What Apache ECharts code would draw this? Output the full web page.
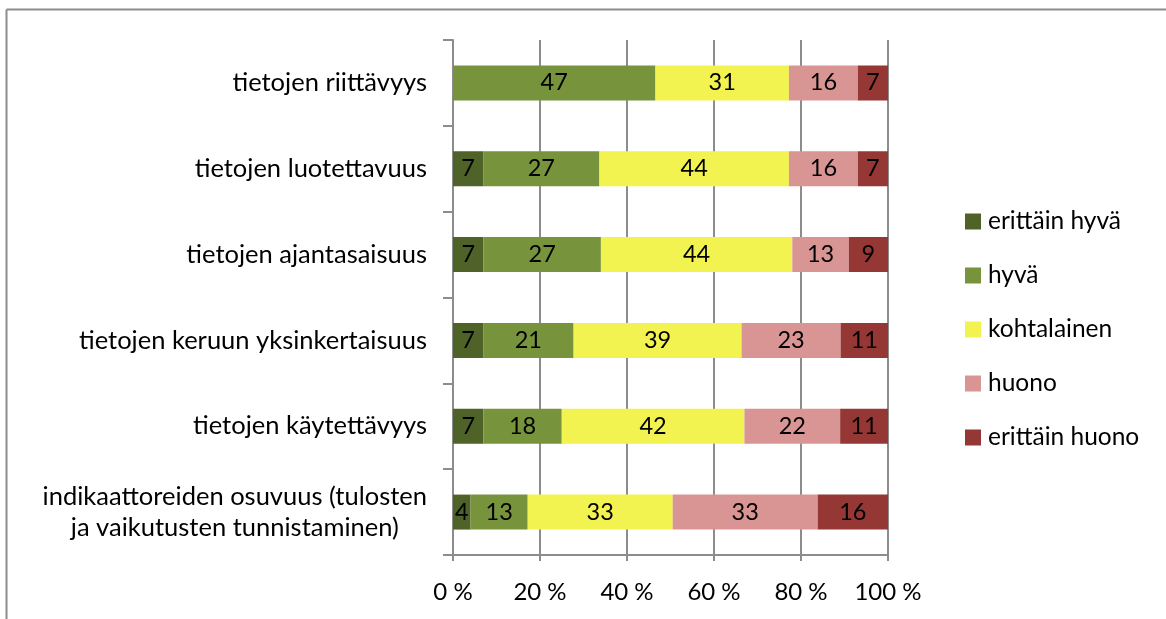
<!DOCTYPE html>
<html>
<head>
<meta charset="utf-8">
<script src="https://cdn.jsdelivr.net/npm/echarts@6/dist/echarts.min.js"></script>
<style>
html,body{margin:0;padding:0;background:#fff;}
#c{width:1166px;height:619px;}
</style>
</head>
<body>
<div id="c"></div>
<script>
const categories = [
  'tietojen riittävyys',
  'tietojen luotettavuus',
  'tietojen ajantasaisuus',
  'tietojen keruun yksinkertaisuus',
  'tietojen käytettävyys',
  'indikaattoreiden osuvuus (tulosten\nja vaikutusten tunnistaminen)'
];
const seriesNames = ['erittäin hyvä', 'hyvä', 'kohtalainen', 'huono', 'erittäin huono'];
const erittainHyva = [0, 7, 7, 7, 7, 4];
const hyva = [47, 27, 27, 21, 18, 13];
const kohtalainen = [31, 44, 44, 39, 42, 33];
const huono = [16, 16, 13, 23, 22, 33];
const erittainHuono = [7, 7, 9, 11, 11, 16];
const xTicks = [0, 20, 40, 60, 80, 100];
const colors = ['#4f6228', '#77933c', '#f2f250', '#d99594', '#953735'];

const raw = [erittainHyva, hyva, kohtalainen, huono, erittainHuono];
const totals = categories.map((_, i) => raw.reduce((s, arr) => s + arr[i], 0));
const font = 'Lato, "Open Sans", sans-serif';
const gray = '#8c8c8c';

const chart = echarts.init(document.getElementById('c'));
chart.setOption({
  animation: false,
  backgroundColor: '#fff',
  textStyle: { fontFamily: font },
  graphic: [
    { type: 'line', shape: { x1: 6.5, y1: 9.5, x2: 1166, y2: 9.5 }, style: { stroke: gray, lineWidth: 2 } },
    { type: 'line', shape: { x1: 6.5, y1: 9.5, x2: 6.5, y2: 619 }, style: { stroke: gray, lineWidth: 2 } }
  ],
  grid: { left: 453, right: 278, top: 40, bottom: 64, containLabel: false },
  legend: {
    orient: 'vertical',
    left: 965,
    top: 209,
    padding: 0,
    itemWidth: 16,
    itemHeight: 16,
    itemGap: 29,
    icon: 'rect',
    data: seriesNames,
    textStyle: { fontSize: 24.5, lineHeight: 20, color: '#000', fontFamily: font, padding: [0, 0, 0, 2] }
  },
  xAxis: {
    type: 'value',
    min: 0,
    max: 100,
    interval: 20,
    axisLine: { show: true, lineStyle: { color: gray, width: 2 } },
    axisTick: { show: true, length: 6, lineStyle: { color: gray, width: 2 } },
    splitLine: { show: true, lineStyle: { color: gray, width: 2 } },
    axisLabel: {
      formatter: v => xTicks.includes(v) ? v + ' %' : '',
      fontSize: 24, color: '#000', margin: 25, fontFamily: font
    }
  },
  yAxis: {
    type: 'category',
    inverse: true,
    data: categories,
    axisLine: { show: true, lineStyle: { color: gray, width: 2 } },
    axisTick: { show: true, length: 10, lineStyle: { color: gray, width: 2 } },
    axisLabel: {
      fontSize: 25.5, color: '#000', margin: 26, fontFamily: font,
      align: 'right',
      formatter: v => '{a|' + v.split('\n').join('}\n{a|') + '}',
      rich: { a: { fontSize: 25.5, color: '#000', fontFamily: font, align: 'center', lineHeight: 31 } }
    }
  },
  series: raw.map((arr, k) => ({
    name: seriesNames[k],
    type: 'bar',
    stack: 'total',
    barWidth: 35,
    itemStyle: { color: colors[k] },
    label: {
      show: true,
      position: 'inside',
      color: '#000',
      fontSize: 23.5,
      fontFamily: font,
      formatter: p => (arr[p.dataIndex] ? String(arr[p.dataIndex]) : '')
    },
    data: arr.map((v, i) => v / totals[i] * 100)
  }))
});
</script>
</body>
</html>
